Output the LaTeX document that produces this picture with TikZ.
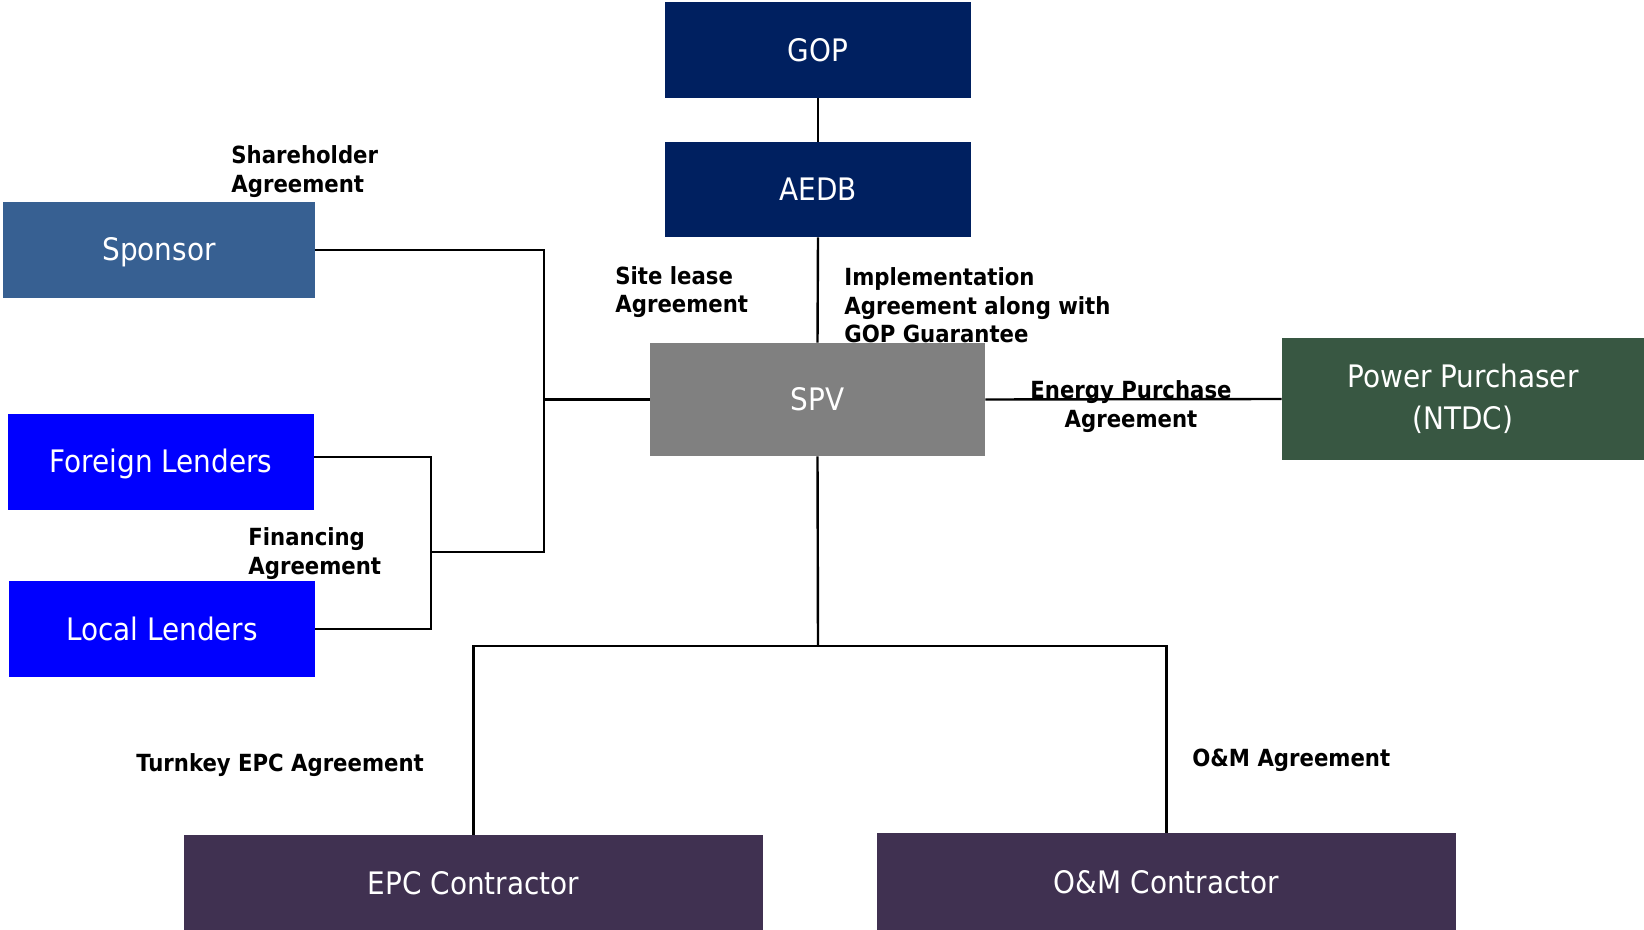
\documentclass[tikz,border=0pt]{standalone}
\usepackage{fontspec}
\setmainfont{DejaVu Sans Condensed}
\newfontfamily\lblfont{DejaVu Sans Condensed Bold}
\definecolor{navy}{HTML}{002060}
\definecolor{sponsorblue}{HTML}{376092}
\definecolor{lenderblue}{HTML}{0000FF}
\definecolor{spvgrey}{HTML}{808080}
\definecolor{ppgreen}{HTML}{385742}
\definecolor{contrpurple}{HTML}{403151}
\begin{document}
\begin{tikzpicture}[x=0.5pt,y=-0.5pt,
  box/.style={draw=none,text=white,inner sep=0pt,align=center,
    font=\fontsize{15.5}{21}\selectfont},
  lbl/.style={inner sep=0pt,align=left,anchor=west,
    font=\lblfont\fontsize{11.8}{14.3}\selectfont},
  conn/.style={line width=1.2pt,black}]
\useasboundingbox (0,0) rectangle (1644,930);
\node[box,fill=navy,minimum width=153pt,minimum height=48pt] (GOP) at (818,50) {GOP};
\node[box,fill=navy,minimum width=153pt,minimum height=47.5pt] (AEDB) at (818,189.5) {AEDB};
\node[box,fill=sponsorblue,minimum width=156pt,minimum height=48pt] (Sponsor) at (159,250) {};
\node[box] (Sponsort) at (159,252) {Sponsor};
\node[box,fill=lenderblue,minimum width=153pt,minimum height=48pt] (Foreign) at (161,462) {};
\node[box] (Foreignt) at (161,464) {Foreign Lenders};
\node[box,fill=lenderblue,minimum width=153pt,minimum height=48pt] (Local) at (162,629) {Local Lenders};
\node[box,fill=spvgrey,minimum width=167.5pt,minimum height=56.5pt] (SPV) at (817.5,399.5) {SPV};
\node[box,fill=ppgreen,minimum width=181pt,minimum height=61pt] (PP) at (1463,399) {Power Purchaser\\(NTDC)};
\node[box,fill=contrpurple,minimum width=289.5pt,minimum height=50pt] (EPC) at (473.5,885) {};
\node[box] (EPCt) at (473.5,883) {EPC Contractor};
\node[box,fill=contrpurple,minimum width=289.5pt,minimum height=51pt] (OM) at (1166.5,884) {};
\node[box] (OMt) at (1166.5,882) {O\&M Contractor};

\coordinate (jA) at (544,552);
\coordinate (jB) at (431,552);
\coordinate (jC) at (818,646);

\draw[conn] (GOP.south) -- (AEDB.north);
\draw[conn] (AEDB.south) -- (SPV.north);
\draw[conn] (Sponsor.east) -| (jA) -- (jB);
\draw[conn] ([yshift=2.5pt]Foreign.east) -| (jB) |- (Local.east);
\draw[conn] (SPV.west) -- (SPV.west -| jA);
\draw[conn] (SPV.east) -- (PP.west);
\draw[conn] (SPV.south) -- (jC);
\draw[conn] (EPC.north) |- (jC) -| (OM.north);

\node[lbl] (lShare) at (231,171.5) {Shareholder\\Agreement};
\node[lbl] (lSite) at (615,292) {Site lease\\Agreement};
\node[lbl] (lImpl) at (844,305.5) {Implementation\\Agreement along with\\GOP Guarantee};
\node[lbl,align=center,anchor=center] (lEnergy) at (1131,406.5) {Energy Purchase\\Agreement};
\node[lbl] (lFin) at (248,553.5) {Financing\\Agreement};
\node[lbl] (lEPC) at (136,765) {Turnkey EPC Agreement};
\node[lbl] (lOM) at (1192,760) {O\&M Agreement};
\end{tikzpicture}
\end{document}
